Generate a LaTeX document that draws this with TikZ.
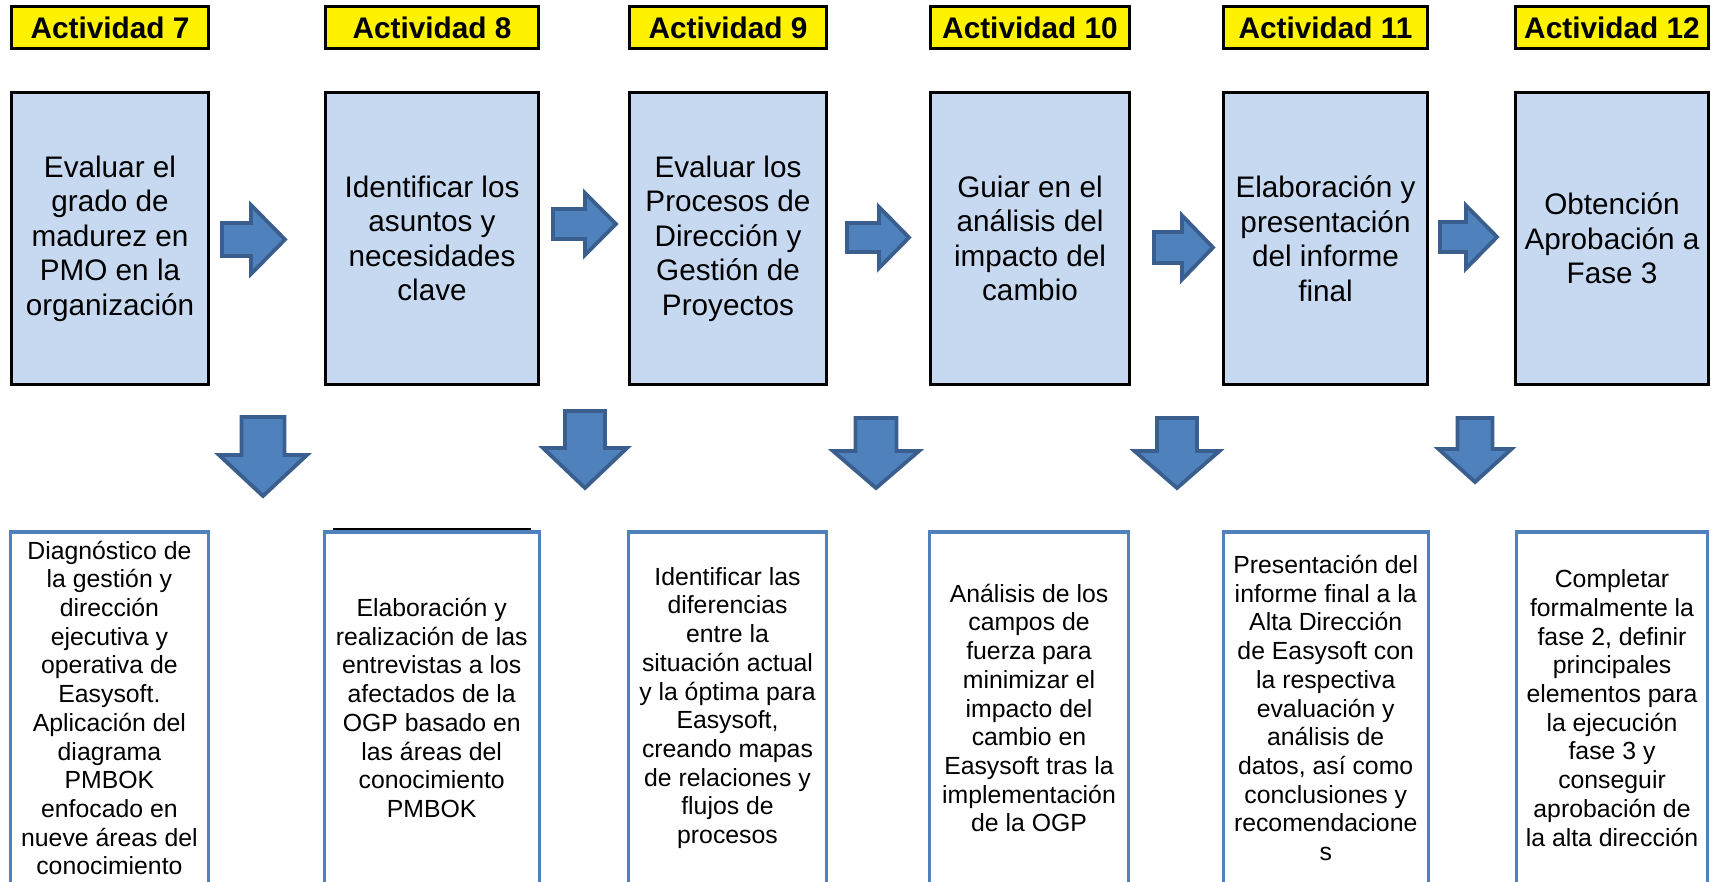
\documentclass[tikz,border=0pt]{standalone}
\usepackage{fontspec}
\setmainfont{Liberation Sans}
\definecolor{actfill}{HTML}{C6D9F1}
\definecolor{arrowfill}{HTML}{4F81BD}
\definecolor{arrowline}{HTML}{3A5F8E}
\definecolor{descline}{HTML}{4F81BD}
\tikzset{
  hdr/.style={draw=black, line width=1.5pt, fill=yellow, minimum height=21pt,
    inner sep=0pt, font=\bfseries\fontsize{14.9}{17}\selectfont},
  actbox/.style={draw=black, line width=1.5pt, fill=actfill, minimum height=146pt,
    align=center, inner sep=0pt, font=\fontsize{14.85}{17.25}\selectfont},
  descbox/.style={draw=descline, line width=1.6pt, fill=white, minimum height=176pt,
    align=center, inner sep=0pt, font=\fontsize{12.4}{14.35}\selectfont},
  blockarrow/.style={fill=arrowfill, draw=arrowline, line width=1.9pt, line join=miter}
}
% block arrow pointing right: x start, x of head base, x of tip, y middle, shaft half, head half
\newcommand{\blockright}[6]{%
  \draw[blockarrow] (#1,#4-#5) -- (#2,#4-#5) -- (#2,#4-#6) -- (#3,#4)
    -- (#2,#4+#6) -- (#2,#4+#5) -- (#1,#4+#5) -- cycle;}
% block arrow pointing down: x middle, shaft half, head half, y top, y of head base, y of tip
\newcommand{\blockdown}[6]{%
  \draw[blockarrow] (#1-#2,#4) -- (#1+#2,#4) -- (#1+#2,#5) -- (#1+#3,#5) -- (#1,#6)
    -- (#1-#3,#5) -- (#1-#2,#5) -- cycle;}
\begin{document}
\begin{tikzpicture}[x=0.5pt, y=-0.5pt]
\useasboundingbox (0,0) rectangle (1711,882);
\clip (0,0) rectangle (1711,882);

% activity titles
\node[hdr, minimum width=98.7pt]  (h7)  at (110,27.5)    {Actividad 7};
\node[hdr, minimum width=106.5pt] (h8)  at (432,27.5)    {Actividad 8};
\node[hdr, minimum width=98.7pt]  (h9)  at (728,27.5)    {Actividad 9};
\node[hdr, minimum width=99.4pt]  (h10) at (1030,27.5)   {Actividad 10};
\node[hdr, minimum width=102.2pt] (h11) at (1325.5,27.5) {Actividad 11};
\node[hdr, minimum width=96.5pt]  (h12) at (1612,27.5)   {Actividad 12};

% activity boxes
\node[actbox, minimum width=98.7pt]  (a7)  at (110,238.5)    {Evaluar el\\grado de\\madurez en\\PMO en la\\organización};
\node[actbox, minimum width=106.5pt] (a8)  at (432,238.5)    {Identificar los\\asuntos y\\necesidades\\clave};
\node[actbox, minimum width=98.7pt]  (a9)  at (728,238.5)    {Evaluar los\\Procesos de\\Dirección y\\Gestión de\\Proyectos};
\node[actbox, minimum width=99.4pt]  (a10) at (1030,238.5)   {Guiar en el\\análisis del\\impacto del\\cambio};
\node[actbox, minimum width=102.2pt] (a11) at (1325.5,238.5) {Elaboración y\\presentación\\del informe\\final};
\node[actbox, minimum width=96.5pt]  (a12) at (1612,238.5)   {Obtención\\Aprobación a\\Fase 3};

% description boxes
\node[descbox, minimum width=99.1pt]  (d7)  at (109.4,708)  {Diagnóstico de\\la gestión y\\dirección\\ejecutiva y\\operativa de\\Easysoft.\\Aplicación del\\diagrama\\PMBOK\\enfocado en\\nueve áreas del\\conocimiento};
\node[descbox, minimum width=107.6pt] (d8)  at (431.7,708)  {Elaboración y\\realización de las\\entrevistas a los\\afectados de la\\OGP basado en\\las áreas del\\conocimiento\\PMBOK};
\node[descbox, minimum width=99pt]    (d9)  at (727.5,708)  {Identificar las\\diferencias\\entre la\\situación actual\\y la óptima para\\Easysoft,\\creando mapas\\de relaciones y\\flujos de\\procesos};
\node[descbox, minimum width=99.25pt] (d10) at (1029,708)   {Análisis de los\\campos de\\fuerza para\\minimizar el\\impacto del\\cambio en\\Easysoft tras la\\implementación\\de la OGP};
\node[descbox, minimum width=102.6pt] (d11) at (1325.7,708) {Presentación del\\informe final a la\\Alta Dirección\\de Easysoft con\\la respectiva\\evaluación y\\análisis de\\datos, así como\\conclusiones y\\recomendacione\\s};
\node[descbox, minimum width=95.5pt]  (d12) at (1612,708)   {Completar\\formalmente la\\fase 2, definir\\principales\\elementos para\\la ejecución\\fase 3 y\\conseguir\\aprobación de\\la alta dirección};

% thin rule over the second description box
\draw[line width=1pt] (333,529.3) -- (531,529.3);

% arrows between activities
\blockright{222}{251}{285}{239.5}{16.5}{34.5}
\blockright{553}{585}{616}{224}{15}{31}
\blockright{847}{879}{909}{237.5}{14.5}{30.5}
\blockright{1154}{1182}{1213}{247.5}{15.5}{32}
\blockright{1440}{1466}{1497}{237}{15}{31.5}

% arrows down to the descriptions
\blockdown{263}{21.5}{44}{417}{455}{496}
\blockdown{585}{20}{42}{411}{448}{488}
\blockdown{876}{20.5}{43}{418}{451}{488}
\blockdown{1177}{20}{42.5}{418}{451}{488}
\blockdown{1475}{17.5}{36.5}{418}{449}{482}
\end{tikzpicture}
\end{document}
